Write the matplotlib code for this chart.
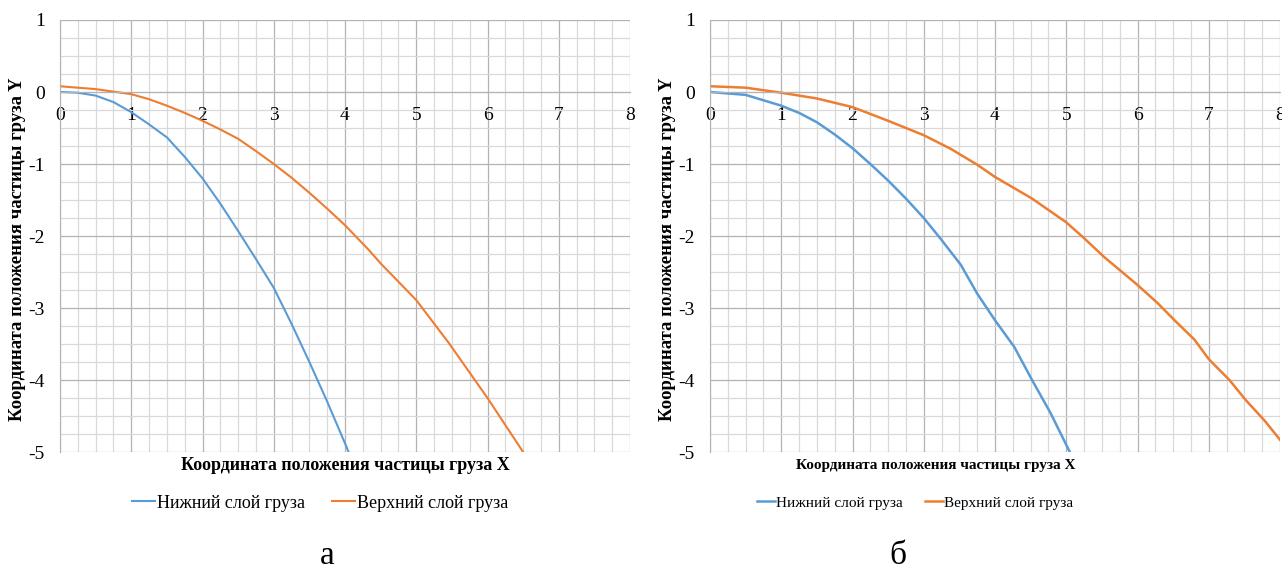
import matplotlib
matplotlib.use('Agg')
import matplotlib.pyplot as plt
from matplotlib.ticker import MultipleLocator

plt.rcParams['font.family'] = ['Liberation Serif', 'DejaVu Serif']
plt.rcParams['axes.unicode_minus'] = False

# panel a
a_low_x = [0, 0.25, 0.5, 0.75, 1.0, 1.25, 1.5, 1.75, 2.0, 2.25, 2.5, 2.75, 3.0, 3.25, 3.5, 3.75, 4.0, 4.05]
a_low_y = [0, -0.01, -0.05, -0.14, -0.28, -0.45, -0.63, -0.9, -1.2, -1.55, -1.93, -2.32, -2.72, -3.22, -3.75, -4.3, -4.88, -5.0]
a_up_x = [0, 0.5, 1.0, 1.25, 1.5, 1.75, 2.0, 2.25, 2.5, 2.75, 3.0, 3.25, 3.5, 3.75, 4.0, 4.33, 4.5, 5.0, 5.46, 6.0, 6.5]
a_up_y = [0.08, 0.04, -0.03, -0.1, -0.19, -0.29, -0.4, -0.52, -0.65, -0.82, -1.0, -1.19, -1.4, -1.62, -1.85, -2.19, -2.38, -2.89, -3.49, -4.25, -5.0]

# panel b
b_low_x = [0, 0.5, 1.0, 1.25, 1.5, 1.75, 2.0, 2.25, 2.5, 2.75, 3.0, 3.23, 3.52, 3.75, 4.0, 4.27, 4.52, 4.78, 5.05]
b_low_y = [0, -0.04, -0.19, -0.29, -0.42, -0.59, -0.78, -1.0, -1.23, -1.48, -1.75, -2.03, -2.4, -2.8, -3.17, -3.54, -4.0, -4.46, -5.0]
b_up_x = [0, 0.5, 1.0, 1.5, 2.0, 2.5, 3.0, 3.38, 3.75, 4.0, 4.52, 5.0, 5.25, 5.53, 6.0, 6.28, 6.54, 6.8, 7.0, 7.29, 7.52, 7.78, 8.0]
b_up_y = [0.08, 0.06, -0.01, -0.09, -0.21, -0.4, -0.6, -0.79, -1.01, -1.18, -1.48, -1.81, -2.03, -2.29, -2.68, -2.93, -3.19, -3.44, -3.71, -4.0, -4.28, -4.56, -4.83]

labels = ['Нижний слой груза', 'Верхний слой груза']
xlab = 'Координата положения частицы груза X'
ylab = 'Координата положения частицы груза Y'
blue = '#5b9bd5'
orange = '#ed7d31'

W, H = 1282, 569
fig = plt.figure(figsize=(W / 100, H / 100), dpi=100)


def make_panel(left, lx, ly, ux, uy, lw):
    ax = fig.add_axes([left / W, (H - 452) / H, 570 / W, 432 / H])
    ax.set_xlim(0, 8)
    ax.set_ylim(-5, 1)
    ax.xaxis.set_major_locator(MultipleLocator(1))
    ax.xaxis.set_minor_locator(MultipleLocator(0.25))
    ax.yaxis.set_major_locator(MultipleLocator(1))
    ax.yaxis.set_minor_locator(MultipleLocator(0.25))
    ax.grid(which='minor', color='#d9d9d9', lw=0.9)
    ax.grid(which='major', color='#b3b3b3', lw=0.9)
    ax.set_axisbelow(True)
    for s in ['top', 'right']:
        ax.spines[s].set_visible(False)
    ax.spines['bottom'].set_position(('data', 0))
    ax.spines['bottom'].set_color('#b3b3b3')
    ax.spines['left'].set_color('#b3b3b3')
    ax.tick_params(which='both', length=0)
    ax.tick_params(axis='x', labelsize=14, pad=11)
    ax.tick_params(axis='y', labelsize=14, pad=11)
    ax.set_yticks(range(-5, 2))
    ax.set_yticklabels([str(v) for v in range(-5, 2)])
    l1, = ax.plot(lx, ly, color=blue, lw=lw)
    l2, = ax.plot(ux, uy, color=orange, lw=lw)
    return ax, l1, l2


ax1, h1, h2 = make_panel(60, a_low_x, a_low_y, a_up_x, a_up_y, 1.5)
ax2, g1, g2 = make_panel(710, b_low_x, b_low_y, b_up_x, b_up_y, 1.8)

fig.text(345 / W, 1 - 465 / H, xlab, ha='center', va='center', fontsize=13, fontweight='bold')
fig.text(936 / W, 1 - 465 / H, xlab, ha='center', va='center', fontsize=11, fontweight='bold')
fig.text(18 / W, 1 - 249 / H, ylab, ha='center', va='center', rotation=90, fontsize=13.5, fontweight='bold')
fig.text(668 / W, 1 - 249 / H, ylab, ha='center', va='center', rotation=90, fontsize=13.5, fontweight='bold')

fig.legend([h1, h2], labels, loc='center', bbox_to_anchor=(320 / W, 1 - 503 / H), ncol=2,
           frameon=False, fontsize=13, handlelength=1.3, handletextpad=0.1, columnspacing=1.5)
fig.legend([g1, g2], labels, loc='center', bbox_to_anchor=(915 / W, 1 - 503 / H), ncol=2,
           frameon=False, fontsize=11, handlelength=1.2, handletextpad=0.1, columnspacing=1.4)

fig.text(327 / W, 1 - 556 / H, 'а', ha='center', va='center', fontsize=24)
fig.text(898 / W, 1 - 556 / H, 'б', ha='center', va='center', fontsize=24)

fig.savefig('out.png', dpi=100)
